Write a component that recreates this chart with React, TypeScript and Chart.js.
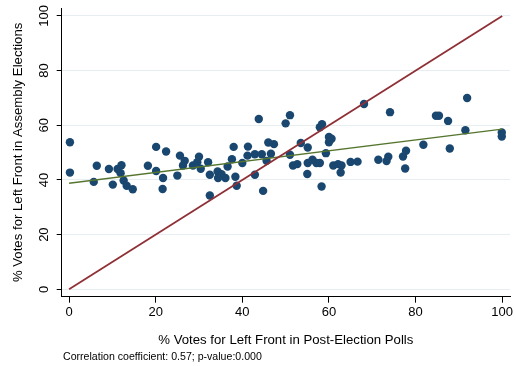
import React, { useEffect, useRef } from "react";
import { Chart, registerables } from "chart.js";

Chart.register(...registerables);

const X_VALUES = [
  0.2, 0.2, 5.7, 6.4, 9.2, 10.1, 11.2, 12.1, 11.9, 12.6, 13.3, 14.7, 18.2, 20.1, 22.4, 20.1, 21.7, 21.6,
  25.6, 26.7, 26.3, 25.0, 28.6, 30.0, 29.6, 30.4, 32.1, 32.5, 34.3, 34.4, 35.2, 36.1, 32.5, 36.6, 38.0,
  37.6, 38.4, 38.7, 40.0, 41.3, 41.2, 42.9, 42.9, 44.5, 46.0, 46.6, 45.6, 44.8, 47.3, 53.5, 55.1, 60.0,
  60.6, 60.0, 59.3, 51.0, 51.7, 52.7, 55.1, 56.2, 57.1, 57.9, 55.0, 58.3, 61.0, 62.1, 62.9, 62.7, 65.0,
  66.6, 71.4, 43.8, 51.0, 50.0, 57.9, 58.4, 68.1, 74.1, 91.9, 84.7, 85.4, 87.5, 91.5, 99.9, 99.9, 81.8,
  87.9, 77.8, 77.1, 73.7, 73.3, 77.6,
];
const Y_VALUES = [
  53.8, 42.7, 39.3, 45.2, 44.0, 38.3, 44.0, 45.4, 42.5, 39.8, 37.9, 36.6, 45.2, 52.1, 50.4, 43.3, 40.7, 36.7,
  48.9, 47.0, 45.3, 41.6, 45.3, 48.5, 46.5, 44.1, 46.5, 41.9, 43.1, 40.7, 42.1, 40.7, 34.3, 44.9, 52.1,
  47.6, 41.2, 37.9, 46.2, 52.2, 48.9, 49.4, 41.9, 49.4, 53.7, 49.6, 47.0, 36.0, 53.1, 53.5, 51.9, 55.7,
  55.1, 53.8, 49.8, 49.2, 45.3, 45.8, 46.2, 47.4, 46.2, 46.2, 42.2, 37.6, 45.3, 45.8, 45.3, 42.7, 46.6,
  46.7, 47.4, 62.3, 63.7, 60.7, 59.3, 60.4, 67.8, 64.8, 70.0, 63.5, 63.5, 61.6, 58.2, 57.4, 55.9, 52.9,
  51.5, 50.7, 48.6, 48.5, 46.9, 44.2,
];
const FIT_X = [0, 100];
const FIT_Y = [38.8, 58.6];
const DIAG_X = [0, 100];
const DIAG_Y = [0, 100];
const X_TICKS = [0, 20, 40, 60, 80, 100];
const Y_TICKS = [0, 20, 40, 60, 80, 100];

const X_TITLE = "% Votes for Left Front in Post-Election Polls";
const Y_TITLE = "% Votes for Left Front in Assembly Elections";
const CAPTION = "Correlation coefficient: 0.57; p-value:0.000";

const FONT = "'Liberation Sans', Arial, Helvetica, sans-serif";

const textPlugin = {
  id: "stataText",
  afterDraw(chart: any) {
    const ctx = chart.ctx;
    const area = chart.chartArea;
    const ys = chart.scales.y;
    ctx.save();
    ctx.fillStyle = "#000";
    // y tick labels (rotated)
    ctx.font = `13px ${FONT}`;
    ctx.textAlign = "center";
    ctx.textBaseline = "middle";
    Y_TICKS.forEach((v) => {
      const py = ys.getPixelForValue(v);
      ctx.save();
      ctx.translate(area.left - 17.5, py);
      ctx.rotate(-Math.PI / 2);
      ctx.fillText(String(v), 0, 0);
      ctx.restore();
    });
    // y title
    ctx.font = `13.2px ${FONT}`;
    ctx.save();
    ctx.translate(18.5, (area.top + area.bottom) / 2);
    ctx.rotate(-Math.PI / 2);
    ctx.fillText(Y_TITLE, 0, 0);
    ctx.restore();
    // x title
    ctx.fillText(X_TITLE, (area.left + area.right) / 2, 340);
    // caption
    ctx.font = `10.6px ${FONT}`;
    ctx.textAlign = "left";
    ctx.fillText(CAPTION, 63, 357);
    ctx.restore();
  },
};

const bgPlugin = {
  id: "bg",
  beforeDraw(chart: any) {
    const ctx = chart.ctx;
    ctx.save();
    ctx.fillStyle = "#fff";
    ctx.fillRect(0, 0, chart.width, chart.height);
    ctx.restore();
  },
};

export default function App() {
  const ref = useRef<HTMLCanvasElement>(null);
  useEffect(() => {
    if (!ref.current) return;
    const chart = new Chart(ref.current, {
      type: "scatter",
      data: {
        datasets: [
          {
            type: "line",
            data: DIAG_X.map((x, i) => ({ x, y: DIAG_Y[i] })),
            borderColor: "#8f2f36",
            borderWidth: 1.8,
            pointRadius: 0,
            fill: false,
          },
          {
            type: "line",
            data: FIT_X.map((x, i) => ({ x, y: FIT_Y[i] })),
            borderColor: "#55752f",
            borderWidth: 1.3,
            pointRadius: 0,
            fill: false,
          },
          {
            type: "scatter",
            data: X_VALUES.map((x, i) => ({ x, y: Y_VALUES[i] })),
            backgroundColor: "#1a476f",
            borderColor: "#1a476f",
            borderWidth: 0,
            pointRadius: 4.2,
          },
        ],
      } as any,
      options: {
        animation: false,
        responsive: true,
        maintainAspectRatio: false,
        layout: { padding: { left: 0, top: 8, right: 6, bottom: 0 } },
        plugins: { legend: { display: false }, tooltip: { enabled: false } },
        scales: {
          x: {
            type: "linear",
            min: -1.7,
            max: 101.8,
            afterBuildTicks: (s: any) => {
              s.ticks = X_TICKS.map((v) => ({ value: v }));
            },
            afterFit: (s: any) => {
              s.height = 69.3;
            },
            grid: {
              drawOnChartArea: false,
              drawTicks: true,
              tickLength: 6,
              tickColor: "#000",
              tickWidth: 1,
            },
            border: { display: true, color: "#000", width: 1 },
            ticks: {
              color: "#000",
              font: { family: FONT, size: 13 },
              padding: 2,
              maxRotation: 0,
              autoSkip: false,
            },
          },
          y: {
            type: "linear",
            min: -2.7,
            max: 102.9,
            afterBuildTicks: (s: any) => {
              s.ticks = Y_TICKS.map((v) => ({ value: v }));
            },
            afterFit: (s: any) => {
              s.width = 61.7;
            },
            grid: {
              color: "#e6eef1",
              lineWidth: 1,
              drawTicks: true,
              tickLength: 5,
              tickColor: "#000",
              tickWidth: 1,
            },
            border: { display: true, color: "#000", width: 1 },
            ticks: { display: false },
          },
        },
      } as any,
      plugins: [bgPlugin, textPlugin],
    });
    return () => chart.destroy();
  }, []);
  return (
    <div style={{ position: "absolute", left: 0, top: 0, width: 516, height: 366 }}>
      <canvas ref={ref} />
    </div>
  );
}
